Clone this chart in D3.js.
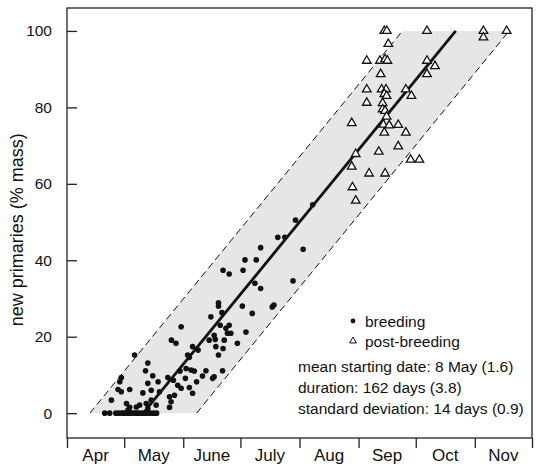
<!DOCTYPE html>
<html>
<head>
<meta charset="utf-8">
<script src="https://cdn.jsdelivr.net/npm/d3@7"></script>
<style>
  body { margin: 0; background: #fff; }
  svg { display: block; font-family: 'Liberation Sans', Arial, Helvetica, sans-serif; }
</style>
</head>
<body>
<div id="chart"></div>
<script>
// x values are days counted from 1 April, y values are % of primary mass
var monthStarts = [0, 30, 61, 91, 122, 153, 183, 214, 244]
var monthLabels = ['Apr', 'May', 'June', 'July', 'Aug', 'Sep', 'Oct', 'Nov']
var yTicks = [0, 20, 40, 60, 80, 100]

var breeding = [
  [128.9, 54.5], [119.9, 50.5], [110.6, 46.0], [114.3, 46.0], [123.9, 42.9], [101.6, 43.3],
  [93.4, 40.1], [99.3, 40.1], [81.9, 37.4], [85.1, 36.4], [92.4, 37.4], [118.6, 34.6],
  [98.6, 34.0], [101.6, 32.6], [107.7, 27.8], [108.6, 28.3], [79.5, 28.9], [79.5, 28.0],
  [81.3, 26.3], [92.0, 28.0], [97.2, 26.1], [75.5, 25.2], [59.9, 22.6], [80.4, 23.0],
  [83.4, 22.2], [85.1, 23.0], [84.2, 20.9], [86.0, 20.9], [93.9, 21.2], [54.8, 19.1],
  [57.2, 18.3], [74.6, 19.1], [77.8, 19.3], [77.2, 20.4], [82.5, 19.1], [78.1, 17.4],
  [81.9, 16.9], [89.4, 18.3], [65.9, 17.4], [68.8, 16.5], [63.3, 15.2], [64.2, 14.6],
  [79.5, 15.2], [35.5, 15.2], [42.4, 13.1], [59.3, 11.0], [62.5, 11.7], [65.1, 11.3],
  [66.8, 11.0], [72.9, 11.1], [81.6, 11.1], [41.2, 11.1], [45.0, 9.8], [52.9, 9.3],
  [55.8, 8.6], [62.1, 9.1], [71.1, 9.7], [76.4, 9.1], [77.2, 9.5], [68.0, 8.2],
  [28.5, 9.3], [27.7, 8.2], [42.4, 7.8], [47.8, 8.2], [58.1, 7.3], [59.9, 6.5],
  [64.2, 6.7], [26.8, 6.2], [28.5, 5.6], [32.9, 6.2], [39.8, 5.3], [44.2, 6.0],
  [48.5, 5.6], [53.8, 4.3], [56.4, 4.7], [65.9, 5.2], [23.3, 3.4], [54.6, 3.0],
  [44.2, 3.4], [46.8, 2.1], [41.6, 2.5], [31.2, 2.5], [38.1, 2.1], [32.9, 1.5],
  [36.4, 1.6], [53.8, 1.5], [42.4, 1.2], [32.0, 0.8],
  [19.8, 0], [22.4, 0], [25.6, 0], [27.1, 0], [28.7, 0], [29.7, 0], [30.8, 0],
  [31.8, 0], [32.9, 0], [33.9, 0], [35.0, 0], [36.0, 0], [37.1, 0], [38.1, 0],
  [39.7, 0], [41.2, 0], [42.8, 0], [43.8, 0], [45.4, 0], [47.0, 0]
]

var postBreeding = [
  [166.5, 100], [167.8, 100], [188.9, 100], [218.5, 100], [218.5, 98.3], [230.7, 100],
  [168.6, 96.6], [157.3, 92.2], [164.2, 92.2], [166.9, 92.6], [168.1, 92.2], [188.9, 92.2],
  [193.1, 90.8], [164.6, 88.7], [188.9, 88.7], [157.3, 84.7], [165.1, 84.7], [167.4, 84.7],
  [177.8, 84.7], [166.5, 83.5], [167.7, 83.0], [180.7, 83.0], [157.3, 81.2], [165.6, 81.1],
  [165.6, 79.5], [166.9, 79.1], [167.7, 77.6], [149.4, 75.9], [166.0, 75.5], [169.1, 75.3],
  [173.8, 75.4], [166.5, 73.4], [177.8, 73.4], [173.8, 69.8], [163.6, 68.4], [151.5, 67.8],
  [180.3, 66.3], [184.9, 66.3], [149.4, 64.5], [158.5, 62.7], [166.9, 62.7], [149.8, 59.1],
  [151.5, 55.6]
]

// fitted moult model
var meanStart = 40      // day the average bird starts
var duration = 164      // days from 0 to 100 %
var bandHalfWidth = 28  // two standard deviations, days

var legendItems = ['breeding', 'post-breeding']
var statLines = [
  'mean starting date: 8 May (1.6)',
  'duration: 162 days (3.8)',
  'standard deviation: 14 days (0.9)'
]

var width = 538
var height = 467
var margin = { left: 67, right: 6, top: 8, bottom: 29 }

var svg = d3.select('#chart').append('svg')
  .attr('width', width)
  .attr('height', height)

var x = d3.scaleLinear()
  .domain([0, 244])
  .range([margin.left, width - margin.right])

var y = d3.scaleLinear()
  .domain([-6.5, 106])
  .range([height - margin.bottom, margin.top])

// grey band of +-2 sd around the mean line
var band = [
  [meanStart - bandHalfWidth, 0],
  [meanStart + bandHalfWidth, 0],
  [meanStart + duration + bandHalfWidth, 100],
  [meanStart + duration - bandHalfWidth, 100]
]

svg.append('path')
  .attr('d', d3.line().x(function (d) { return x(d[0]) }).y(function (d) { return y(d[1]) })(band) + 'Z')
  .attr('fill', '#e6e6e6')

var edges = [[band[0], band[3]], [band[1], band[2]]]
svg.selectAll('line.edge')
  .data(edges)
  .enter().append('line')
  .classed('edge', true)
  .attr('x1', function (d) { return x(d[0][0]) })
  .attr('y1', function (d) { return y(d[0][1]) })
  .attr('x2', function (d) { return x(d[1][0]) })
  .attr('y2', function (d) { return y(d[1][1]) })
  .attr('stroke', '#111')
  .attr('stroke-width', 1)
  .attr('stroke-dasharray', '7,4')

svg.append('line')
  .attr('x1', x(meanStart))
  .attr('y1', y(0))
  .attr('x2', x(meanStart + duration))
  .attr('y2', y(100))
  .attr('stroke', '#111')
  .attr('stroke-width', 2.8)

// points
svg.append('g')
  .selectAll('circle')
  .data(breeding)
  .enter().append('circle')
  .attr('cx', function (d) { return x(d[0]) })
  .attr('cy', function (d) { return y(d[1]) })
  .attr('r', 2.8)
  .attr('fill', '#111')

var tri = d3.symbol().type(d3.symbolTriangle).size(32)
svg.append('g')
  .selectAll('path')
  .data(postBreeding)
  .enter().append('path')
  .attr('transform', function (d) {
    return 'translate(' + x(d[0]) + ',' + y(d[1]) + ')'
  })
  .attr('d', tri)
  .attr('fill', '#fff')
  .attr('stroke', '#111')
  .attr('stroke-width', 1.3)

// frame
svg.append('rect')
  .attr('x', margin.left)
  .attr('y', margin.top)
  .attr('width', width - margin.left - margin.right)
  .attr('height', height - margin.top - margin.bottom)
  .attr('fill', 'none')
  .attr('stroke', '#222')
  .attr('stroke-width', 1.3)

// y axis
var yAxis = svg.append('g')
  .attr('transform', 'translate(' + margin.left + ',0)')
  .call(d3.axisLeft(y).tickValues(yTicks).tickSize(-10).tickPadding(15))
yAxis.select('.domain').remove()
yAxis.selectAll('line').attr('stroke', '#222').attr('stroke-width', 1.3)
yAxis.selectAll('text')
  .attr('fill', '#111')
  .style('font-size', '15.5px')
  .style('font-family', "'Liberation Sans', Arial, sans-serif")

svg.append('text')
  .attr('transform', 'translate(23,' + y(48) + ') rotate(-90)')
  .attr('text-anchor', 'middle')
  .attr('fill', '#111')
  .style('font-size', '18px')
  .text('new primaries (% mass)')

// x axis: month boundaries as ticks, names in between
var xAxis = svg.append('g')
  .attr('transform', 'translate(0,' + (height - margin.bottom) + ')')
  .call(d3.axisBottom(x).tickValues(monthStarts).tickSize(10).tickFormat(''))
xAxis.select('.domain').remove()
xAxis.selectAll('line').attr('stroke', '#222').attr('stroke-width', 1.3)

svg.append('g')
  .selectAll('text')
  .data(monthLabels)
  .enter().append('text')
  .attr('x', function (d, i) { return x((monthStarts[i] + monthStarts[i + 1]) / 2) })
  .attr('y', height - margin.bottom + 23)
  .attr('text-anchor', 'middle')
  .attr('fill', '#111')
  .style('font-size', '17px')
  .text(function (d) { return d })

// legend and fit statistics
var legend = svg.append('g').attr('transform', 'translate(353,321)')
legend.append('circle').attr('r', 2.4).attr('fill', '#111')
legend.append('path')
  .attr('transform', 'translate(0,20)')
  .attr('d', d3.symbol().type(d3.symbolTriangle).size(20))
  .attr('fill', '#fff')
  .attr('stroke', '#111')
  .attr('stroke-width', 1)
legend.selectAll('text')
  .data(legendItems)
  .enter().append('text')
  .attr('x', 12)
  .attr('y', function (d, i) { return i * 20 + 5.5 })
  .attr('fill', '#111')
  .style('font-size', '15.5px')
  .text(function (d) { return d })

svg.append('g')
  .selectAll('text')
  .data(statLines)
  .enter().append('text')
  .attr('x', 298)
  .attr('y', function (d, i) { return 372 + i * 20.8 })
  .attr('fill', '#111')
  .style('font-size', '15.5px')
  .text(function (d) { return d })
</script>
</body>
</html>
